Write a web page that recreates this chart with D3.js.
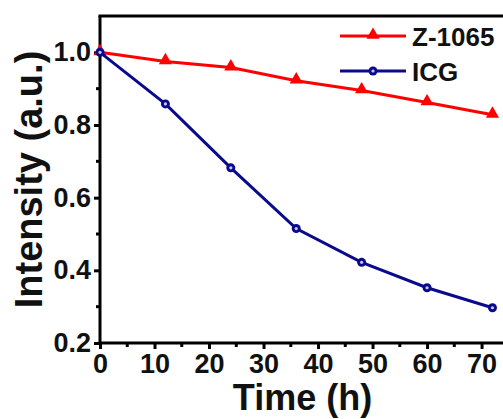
<!DOCTYPE html>
<html lang="en">
<head>
    <meta charset="UTF-8">
    <title>Intensity vs Time</title>
    <style>
        body {
            margin: 0;
            background-color: #ffffff;
        }
        svg {
            display: block;
        }
        text {
            font-family: Arial, "Liberation Sans", sans-serif;
            font-weight: bold;
            fill: #111;
        }
    </style>
    <script src="https://d3js.org/d3.v7.min.js"></script>
</head>
<body>
    <svg width="503" height="419"></svg>

    <script>
        // дані з графіка
        const times = [0, 12, 24, 36, 48, 60, 72];
        const z1065 = [1.0, 0.975, 0.958, 0.922, 0.895, 0.862, 0.828];
        const icg = [1.0, 0.858, 0.682, 0.515, 0.422, 0.352, 0.297];
        const xTicks = [0, 10, 20, 30, 40, 50, 60, 70];
        const xMinor = [5, 15, 25, 35, 45, 55, 65];
        const yTicks = [0.2, 0.4, 0.6, 0.8, 1.0];
        const yMinor = [0.3, 0.5, 0.7, 0.9];
        const seriesNames = ["Z-1065", "ICG"];

        const svg = d3.select("svg");
        const mLeft = 100, mRight = 505, mTop = 16, mBottom = 343;

        const x = d3.scaleLinear().domain([0, 74.3]).range([mLeft, mRight]);
        const y = d3.scaleLinear().domain([0.2, 1.1]).range([mBottom, mTop]);

        // рамка зверху
        svg.append("line")
            .attr("x1", mLeft - 1.5).attr("x2", mRight)
            .attr("y1", mTop).attr("y2", mTop)
            .style("stroke", "#000").style("stroke-width", 3);

        // вісь X
        const xAxis = svg.append("g").attr("transform", `translate(0,${mBottom})`);
        xAxis.call(d3.axisBottom(x).tickValues(xTicks).tickSize(6).tickPadding(5).tickFormat(d3.format("d")));
        xMinor.forEach(v => {
            xAxis.append("line")
                .attr("x1", x(v)).attr("x2", x(v))
                .attr("y1", 0).attr("y2", 4)
                .style("stroke", "#000").style("stroke-width", 3);
        });

        // вісь Y
        const yAxis = svg.append("g").attr("transform", `translate(${mLeft},0)`);
        yAxis.call(d3.axisLeft(y).tickValues(yTicks).tickSize(6).tickPadding(3).tickFormat(d3.format(".1f")));
        yMinor.forEach(v => {
            yAxis.append("line")
                .attr("x1", 0).attr("x2", -4)
                .attr("y1", y(v)).attr("y2", y(v))
                .style("stroke", "#000").style("stroke-width", 3);
        });

        svg.selectAll(".domain")
            .style("stroke", "#000").style("stroke-width", 3);
        svg.selectAll(".tick line")
            .style("stroke", "#000").style("stroke-width", 3);
        svg.selectAll(".tick text")
            .style("font-size", "27px")
            .style("font-family", "Arial, 'Liberation Sans', sans-serif")
            .style("font-weight", "bold")
            .style("fill", "#111");
        xAxis.select(".domain").attr("d", `M${mLeft - 1.5},0H${mRight}`);
        yAxis.select(".domain").attr("d", `M0,${mBottom + 1.5}V${mTop}`);

        // підписи осей
        svg.append("text")
            .attr("x", (mLeft + mRight) / 2)
            .attr("y", 410)
            .attr("text-anchor", "middle")
            .style("font-size", "36px")
            .text("Time (h)");

        svg.append("text")
            .attr("transform", `translate(42,${(mTop + mBottom) / 2}) rotate(-90)`)
            .attr("text-anchor", "middle")
            .style("font-size", "38px")
            .text("Intensity (a.u.)");

        const line = d3.line()
            .x((d, i) => x(times[i]))
            .y(d => y(d));

        const tri = d3.symbol().type(d3.symbolTriangle).size(75);

        // Z-1065
        svg.append("path")
            .datum(z1065)
            .attr("d", line)
            .style("fill", "none")
            .style("stroke", "#ff0000")
            .style("stroke-width", 3);
        svg.selectAll("path.tri")
            .data(z1065)
            .enter().append("path")
            .attr("class", "tri")
            .attr("d", tri)
            .attr("transform", (d, i) => `translate(${x(times[i])},${y(d) - 1})`)
            .style("fill", "#ff0000");

        // ICG
        svg.append("path")
            .datum(icg)
            .attr("d", line)
            .style("fill", "none")
            .style("stroke", "#0a0a8c")
            .style("stroke-width", 3);
        svg.selectAll("circle.icg")
            .data(icg)
            .enter().append("circle")
            .attr("class", "icg")
            .attr("cx", (d, i) => x(times[i]))
            .attr("cy", d => y(d))
            .attr("r", 4.5)
            .style("fill", "#0a0a8c");
        svg.selectAll("circle.dot")
            .data(icg)
            .enter().append("circle")
            .attr("class", "dot")
            .attr("cx", (d, i) => x(times[i]))
            .attr("cy", d => y(d))
            .attr("r", 1.6)
            .style("fill", "#c8c8ee");

        // легенда
        const legend = svg.append("g");
        const colors = ["#ff0000", "#0a0a8c"];
        seriesNames.forEach((name, i) => {
            const ly = 36 + i * 35;
            legend.append("line")
                .attr("x1", 340).attr("x2", 406)
                .attr("y1", ly).attr("y2", ly)
                .style("stroke", colors[i]).style("stroke-width", 3);
            if (i === 0) {
                legend.append("path")
                    .attr("d", tri)
                    .attr("transform", `translate(373,${ly - 1})`)
                    .style("fill", colors[i]);
            } else {
                legend.append("circle")
                    .attr("cx", 373).attr("cy", ly).attr("r", 4.5)
                    .style("fill", colors[i]);
                legend.append("circle")
                    .attr("cx", 373).attr("cy", ly).attr("r", 1.6)
                    .style("fill", "#c8c8ee");
            }
            legend.append("text")
                .attr("x", 412)
                .attr("y", ly + 10)
                .style("font-size", "26px")
                .text(name);
        });
    </script>
</body>
</html>
